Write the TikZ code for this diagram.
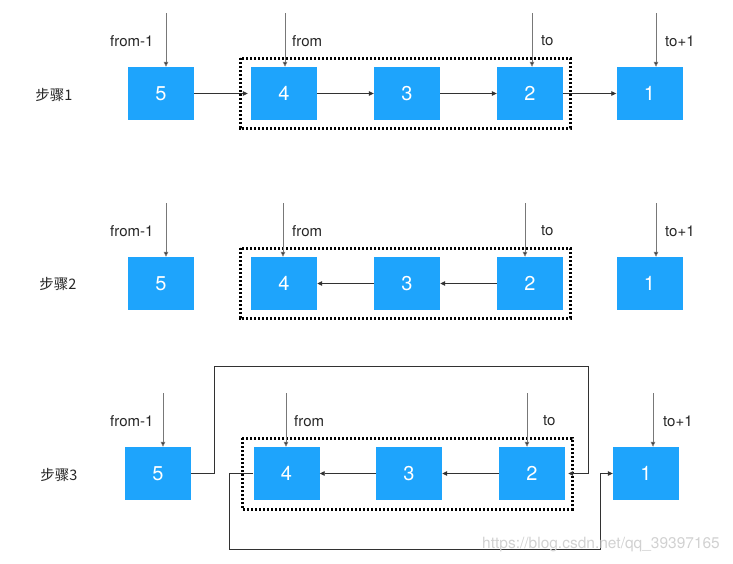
\documentclass[tikz,border=0pt]{standalone}
\usepackage{fontspec}
\setmainfont{TeX Gyre Heros}
\newfontfamily\cjk{Noto Sans CJK SC}
\usetikzlibrary{arrows.meta}
\definecolor{boxblue}{RGB}{30,164,252}
\definecolor{linkcol}{RGB}{50,50,50}
\definecolor{ptrcol}{RGB}{120,120,120}
\tikzset{
  box/.style={rectangle, minimum width=66pt, minimum height=53pt, inner sep=0pt, fill=boxblue, draw=none, text=white, font=\fontsize{20}{20}\selectfont},
  lbl/.style={font=\fontsize{15}{15}\selectfont, text=black!85, inner sep=0pt},
  steplbl/.style={font=\cjk\fontsize{14.5}{15}\selectfont, text=black!85, inner sep=0pt},
  ptr/.style={draw=ptrcol, line width=0.8pt, -{Triangle[length=5pt,width=4.5pt,fill=black!85]}},
  link/.style={draw=linkcol, line width=0.8pt, -{Triangle[length=5pt,width=4.5pt]}},
  dotbox/.style={draw=black, line width=3pt, dash pattern=on 2.4pt off 1.6pt},
}
\begin{document}
\begin{tikzpicture}[x=1pt,y=-1pt]
\useasboundingbox (0,0) rectangle (733,563);
% ---------------- Row 1 ----------------
\node[steplbl] (s1) at (54,95) {步骤1};
\draw[dotbox] (240,58) rectangle (570,128);
\node[box] (a5) at (161,93.5) {5};
\node[box] (a4) at (284,93.5) {4};
\node[box] (a3) at (407,93.5) {3};
\node[box] (a2) at (530,93.5) {2};
\node[box] (a1) at (649.5,93.5) {1};
\coordinate (pa5) at (166,13);
\coordinate (pa4) at (285,13);
\coordinate (pa2) at (532,13);
\coordinate (pa1) at (656,13);
\draw[ptr] (pa5) -- (pa5 |- a5.north);
\draw[ptr] (pa4) -- (pa4 |- a4.north);
\draw[ptr] (pa2) -- (pa2 |- a2.north);
\draw[ptr] (pa1) -- (pa1 |- a1.north);
\node[lbl, anchor=west] (la5) at (110,41) {from-1};
\node[lbl, anchor=west] (la4) at (292,41) {from};
\node[lbl, anchor=west] (la2) at (541,41) {to};
\node[lbl, anchor=west] (la1) at (665,41) {to+1};
\draw[link, shorten >=3pt] (a5.east) -- (a4.west);
\draw[link] (a4.east) -- (a3.west);
\draw[link] (a3.east) -- (a2.west);
\draw[link] (a2.east) -- (a1.west);
% ---------------- Row 2 ----------------
\node[steplbl] (s2) at (58,284) {步骤2};
\draw[dotbox] (240,248) rectangle (570,318);
\node[box] (b5) at (161,283.5) {5};
\node[box] (b4) at (284,283.5) {4};
\node[box] (b3) at (407,283.5) {3};
\node[box] (b2) at (530,283.5) {2};
\node[box] (b1) at (649.5,283.5) {1};
\coordinate (pb5) at (166,203);
\coordinate (pb4) at (283,203);
\coordinate (pb2) at (525,203);
\coordinate (pb1) at (656,203);
\draw[ptr] (pb5) -- (pb5 |- b5.north);
\draw[ptr] (pb4) -- (pb4 |- b4.north);
\draw[ptr] (pb2) -- (pb2 |- b2.north);
\draw[ptr] (pb1) -- (pb1 |- b1.north);
\node[lbl, anchor=west] (lb5) at (110,231) {from-1};
\node[lbl, anchor=west] (lb4) at (292,231) {from};
\node[lbl, anchor=west] (lb2) at (541,231) {to};
\node[lbl, anchor=west] (lb1) at (665,231) {to+1};
\draw[link] (b3.west) -- (b4.east);
\draw[link] (b2.west) -- (b3.east);
% ---------------- Row 3 ----------------
\node[steplbl] (s3) at (59,475) {步骤3};
\draw[dotbox] (242,438) rectangle (572,509);
\node[box] (c5) at (158,473.5) {5};
\node[box] (c4) at (286.5,473.5) {4};
\node[box] (c3) at (409,473.5) {3};
\node[box] (c2) at (532,473.5) {2};
\node[box] (c1) at (646,473.5) {1};
\coordinate (pc5) at (163,393);
\coordinate (pc4) at (286,393);
\coordinate (pc2) at (527,393);
\coordinate (pc1) at (653,393);
\draw[ptr] (pc5) -- (pc5 |- c5.north);
\draw[ptr] (pc4) -- (pc4 |- c4.north);
\draw[ptr] (pc2) -- (pc2 |- c2.north);
\draw[ptr] (pc1) -- (pc1 |- c1.north);
\node[lbl, anchor=west] (lc5) at (110,421) {from-1};
\node[lbl, anchor=west] (lc4) at (294,421) {from};
\node[lbl, anchor=west] (lc2) at (543,421) {to};
\node[lbl, anchor=west] (lc1) at (663,421) {to+1};
\draw[link] (c3.west) -- (c4.east);
\draw[link] (c2.west) -- (c3.east);
\coordinate (t1) at (214,366);
\coordinate (t2) at (588,366);
\coordinate (u1) at (229,549);
\coordinate (u2) at (600,549);
\draw[link, shorten >=3pt] (c5.east) -| (t1) -- (t2) |- (c2.east);
\draw[link] (c4.west) -| (u1) -- (u2) |- (c1.west);
% watermark
\node[font=\fontsize{15.5}{16}\selectfont, text=black!18, inner sep=0pt] (wm) at (601,545) {https://blog.csdn.net/qq\_39397165};
\end{tikzpicture}
\end{document}
